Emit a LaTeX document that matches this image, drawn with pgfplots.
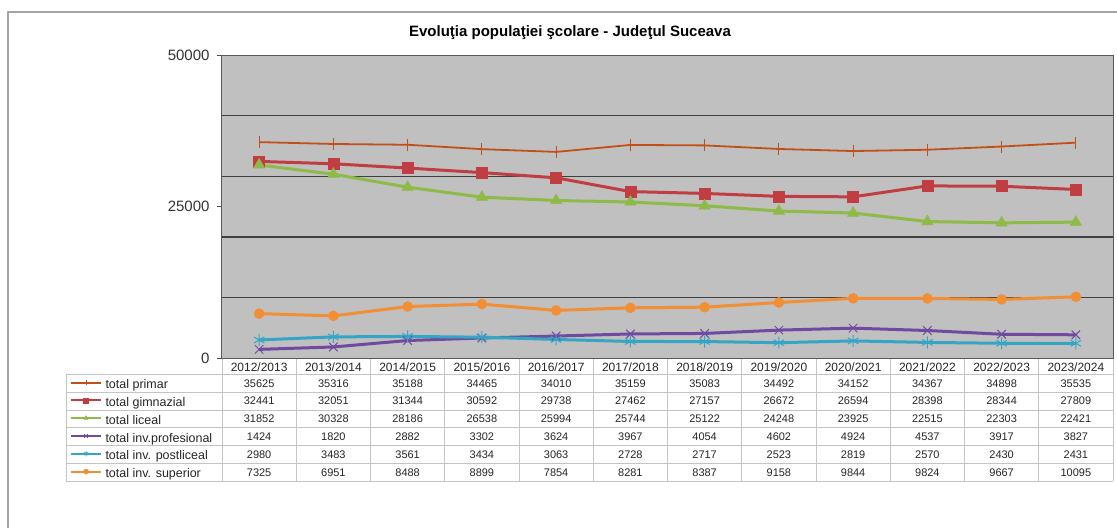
\documentclass[border=0pt]{standalone}
\usepackage{fontspec}
\setmainfont{Liberation Sans}
\usepackage{pgfplots}
\usepackage{pgfplotstable}
\pgfplotsset{compat=1.18}

\definecolor{cprim}{RGB}{192,80,24}
\definecolor{cgimn}{RGB}{192,62,66}
\definecolor{clic}{RGB}{142,186,72}
\definecolor{cprof}{RGB}{112,74,160}
\definecolor{cpost}{RGB}{52,166,196}
\definecolor{csup}{RGB}{242,142,52}
\definecolor{plotbg}{RGB}{192,192,192}
\definecolor{tblgray}{RGB}{196,196,196}
\definecolor{framegray}{RGB}{165,165,165}

\pgfplotstableread{
year primar gimn liceal prof postlic sup
2012/2013 35625 32441 31852 1424 2980 7325
2013/2014 35316 32051 30328 1820 3483 6951
2014/2015 35188 31344 28186 2882 3561 8488
2015/2016 34465 30592 26538 3302 3434 8899
2016/2017 34010 29738 25994 3624 3063 7854
2017/2018 35159 27462 25744 3967 2728 8281
2018/2019 35083 27157 25122 4054 2717 8387
2019/2020 34492 26672 24248 4602 2523 9158
2020/2021 34152 26594 23925 4924 2819 9844
2021/2022 34367 28398 22515 4537 2570 9824
2022/2023 34898 28344 22303 3917 2430 9667
2023/2024 35535 27809 22421 3827 2431 10095
}\data

\begin{document}
\begin{tikzpicture}[x=1pt,y=1pt]
\path[use as bounding box] (0,0) rectangle (1117,528);
\draw[framegray, line width=2pt] (8,0) -- (8,516) -- (1117,516);

\node[font=\bfseries\fontsize{15}{18}\selectfont] at (570,495) {Evoluţia populaţiei şcolare - Judeţul Suceava};

\begin{axis}[
    at={(222pt,170pt)}, anchor=south west,
    width=891pt, height=303pt, scale only axis,
    xmin=-0.5, xmax=11.5, ymin=0, ymax=50000,
    axis background/.style={fill=plotbg},
    axis line style={draw=black!65, line width=1pt},
    xtick=\empty,
    ytick={0,25000,50000},
    ytick pos=left, tick align=outside,
    major tick length=5pt,
    tick style={black!70, line width=0.8pt},
    scaled y ticks=false,
    /pgf/number format/1000 sep={},
    /pgf/number format/assume math mode=true,
    yticklabel style={font=\fontsize{15}{18}\selectfont, text=black!80, xshift=-4pt},
    extra y ticks={10000,20000,30000,40000},
    extra y tick labels={},
    extra y tick style={grid=major, major tick length=0pt},
    major grid style={black!75, line width=1.4pt},
    legend style={
        at={(axis description cs:-0.1706,-0.061)}, anchor=north west,
        draw=none, fill=none, inner sep=0pt, outer sep=0pt,
        row sep=0pt,
        font=\fontsize{12.5}{14}\selectfont,
        nodes={inner sep=0pt, text height=9pt, text depth=2.5pt, minimum height=17.8pt, text=black!85},
    },
    legend cell align=left,
    legend image code/.code={
        \draw[#1, line width=2pt] (0pt,2.8pt) -- (30pt,2.8pt);
        \draw[#1, mark size=2.5pt, line width=1pt] plot coordinates {(15pt,2.8pt)};
        \path (33pt,2.8pt);
    },
]
\addplot[cprim, line width=1.8pt, mark=|, mark size=6pt, mark options={line width=1pt}]
    table[x expr=\coordindex, y=primar] {\data};
\addplot[cgimn, line width=3pt, mark=square*, mark size=5.5pt, mark options={line width=0.5pt}]
    table[x expr=\coordindex, y=gimn] {\data};
\addplot[clic, line width=3pt, mark=triangle*, mark size=6.5pt, mark options={line width=0.5pt}]
    table[x expr=\coordindex, y=liceal] {\data};
\addplot[cprof, line width=3pt, mark=x, mark size=6pt, mark options={line width=1pt}]
    table[x expr=\coordindex, y=prof] {\data};
\addplot[cpost, line width=3pt, mark=asterisk, mark size=6pt, mark options={line width=1pt}]
    table[x expr=\coordindex, y=postlic] {\data};
\addplot[csup, line width=3pt, mark=*, mark size=5pt, mark options={line width=0.5pt}]
    table[x expr=\coordindex, y=sup] {\data};
\legend{total primar, total gimnazial, total liceal, total inv.profesional, total inv. postliceal, total inv. superior}
\end{axis}

% data table under the plot
\foreach \k in {1,...,6}
    \draw[tblgray, line width=1pt] (66,{528-374.5-17.8*\k}) -- (1113,{528-374.5-17.8*\k});
\draw[tblgray, line width=1pt] (66,153.5) -- (1113,153.5);
\foreach \k in {0,...,12}
    \draw[tblgray, line width=1pt] ({222+74.25*\k},169) -- ({222+74.25*\k},46.7);
\draw[tblgray, line width=1pt] (66,153.5) -- (66,46.7);

\foreach \i in {0,...,11}{
    \pgfplotstablegetelem{\i}{year}\of\data
    \node[font=\fontsize{12}{14}\selectfont, text=black!85] at ({259.125+74.25*\i},161) {\pgfplotsretval};
}
\foreach \col [count=\r from 0] in {primar,gimn,liceal,prof,postlic,sup}{
    \foreach \i in {0,...,11}{
        \pgfplotstablegetelem{\i}{\col}\of\data
        \node[font=\fontsize{11}{12}\selectfont, text=black!85] at ({259.125+74.25*\i},{528-383.4-17.8*\r}) {\pgfplotsretval};
    }
}
\end{tikzpicture}
\end{document}
